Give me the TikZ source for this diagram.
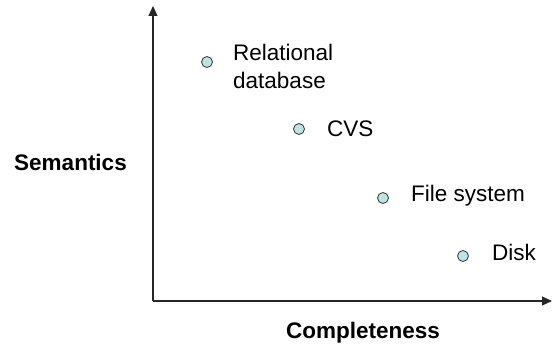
\documentclass[tikz,border=0pt]{standalone}
\usepackage{fontspec}
\setmainfont{Liberation Sans}
\usetikzlibrary{arrows.meta}
\definecolor{dotfill}{HTML}{BDE4E2}
\tikzset{
  axis/.style={line width=1.1pt, draw=black!85, -{Triangle[length=10pt,width=9pt]}},
  dot/.style={circle, draw=black!80, line width=0.8pt, fill=dotfill,
              minimum size=11pt, inner sep=0pt},
  lbl/.style={anchor=base west, inner sep=0pt, font=\fontsize{22.5}{28}\selectfont},
  title/.style={inner sep=0pt, font=\fontsize{22.5}{28}\selectfont\bfseries}
}
\begin{document}
\begin{tikzpicture}[x=1pt,y=-1pt]
  \useasboundingbox (0,0) rectangle (552,352);
  % axes
  \coordinate (origin) at (153,301);
  \coordinate (ytip) at (153,6);
  \coordinate (xtip) at (552,301);
  \draw[axis] (origin) -- (ytip);
  \draw[axis] (origin) -- (xtip);
  % axis titles
  \node[title] (sem) at (70.5,162) {Semantics};
  \node[title] (comp) at (363,333) {Completeness};
  % storage kinds
  \node[dot] (rdb) at (207,62) {};
  \node[dot] (cvs) at (299,129) {};
  \node[dot] (fs)  at (383,198) {};
  \node[dot] (disk) at (463,256) {};
  \node[lbl] (rdbl1) at (233,61) {Relational};
  \node[lbl] (rdbl2) at (233,89) {database};
  \node[lbl] (cvsl) at (327,137) {CVS};
  \node[lbl] (fsl) at (411,202) {File system};
  \node[lbl] (diskl) at (492,261) {Disk};
\end{tikzpicture}
\end{document}
